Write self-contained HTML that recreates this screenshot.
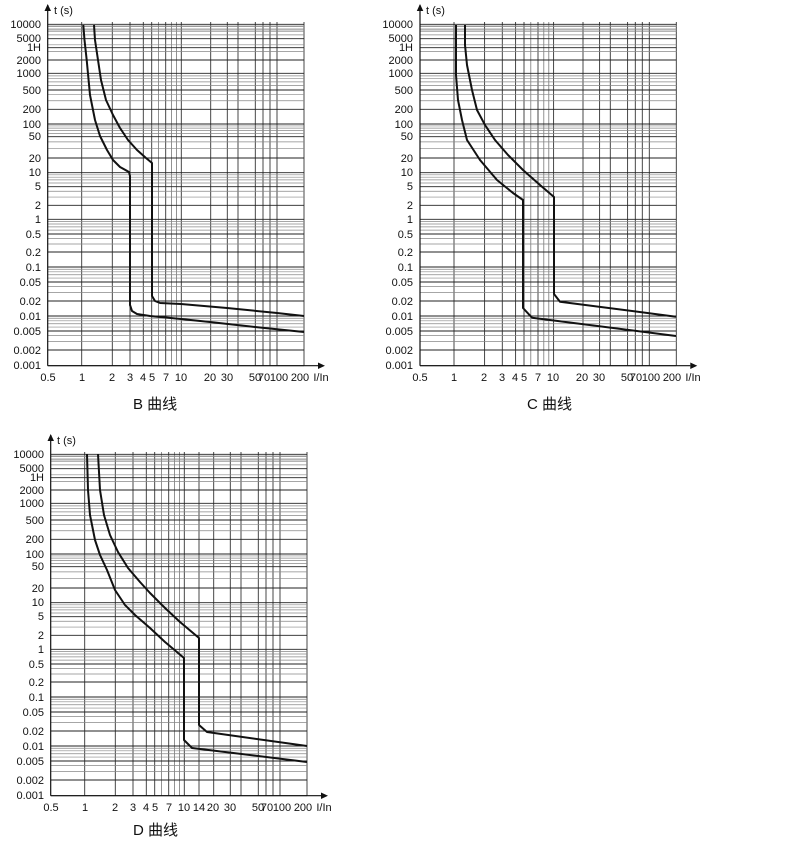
<!DOCTYPE html>
<html><head><meta charset="utf-8">
<style>
html,body{margin:0;padding:0;background:#fff;}
svg{display:block;}
text{font-family:"Liberation Sans","Noto Sans CJK SC",sans-serif;fill:#111;}
.yl{font-size:11px;text-anchor:end;}
.xl{font-size:11px;text-anchor:middle;}
.cap{font-size:15px;}
.cv{fill:none;stroke:#111;stroke-width:2;stroke-linejoin:round;}
</style></head>
<body>
<svg id="s" width="790" height="842" viewBox="0 0 790 842" xmlns="http://www.w3.org/2000/svg">
<g id="grids"></g>
<g id="labels">
<g transform="translate(0,0)">
<text class="yl" x="41" y="28">10000</text><text class="yl" x="41" y="42">5000</text><text class="yl" x="41" y="51">1H</text>
<text class="yl" x="41" y="64">2000</text><text class="yl" x="41" y="77">1000</text><text class="yl" x="41" y="94">500</text>
<text class="yl" x="41" y="113">200</text><text class="yl" x="41" y="128">100</text><text class="yl" x="41" y="140">50</text>
<text class="yl" x="41" y="162">20</text><text class="yl" x="41" y="176">10</text><text class="yl" x="41" y="190">5</text>
<text class="yl" x="41" y="209">2</text><text class="yl" x="41" y="223">1</text><text class="yl" x="41" y="238">0.5</text>
<text class="yl" x="41" y="256">0.2</text><text class="yl" x="41" y="271">0.1</text><text class="yl" x="41" y="286">0.05</text>
<text class="yl" x="41" y="305">0.02</text><text class="yl" x="41" y="320">0.01</text><text class="yl" x="41" y="335">0.005</text>
<text class="yl" x="41" y="354">0.002</text><text class="yl" x="41" y="369">0.001</text>
<text class="xl" x="48" y="381">0.5</text><text class="xl" x="82" y="381">1</text><text class="xl" x="112" y="381">2</text>
<text class="xl" x="130" y="381">3</text><text class="xl" x="143" y="381">4</text><text class="xl" x="152" y="381">5</text>
<text class="xl" x="166" y="381">7</text><text class="xl" x="181" y="381">10</text><text class="xl" x="210" y="381">20</text>
<text class="xl" x="227" y="381">30</text><text class="xl" x="255" y="381">50</text><text class="xl" x="264" y="381">70</text>
<text class="xl" x="279" y="381">100</text><text class="xl" x="300" y="381">200</text><text class="xl" x="321" y="381">I/In</text>
<text x="54" y="14" style="font-size:11px">t (s)</text>
<text class="cap" x="133" y="409">B 曲线</text>
</g>
<g transform="translate(372,0)">
<text class="yl" x="41" y="28">10000</text><text class="yl" x="41" y="42">5000</text><text class="yl" x="41" y="51">1H</text>
<text class="yl" x="41" y="64">2000</text><text class="yl" x="41" y="77">1000</text><text class="yl" x="41" y="94">500</text>
<text class="yl" x="41" y="113">200</text><text class="yl" x="41" y="128">100</text><text class="yl" x="41" y="140">50</text>
<text class="yl" x="41" y="162">20</text><text class="yl" x="41" y="176">10</text><text class="yl" x="41" y="190">5</text>
<text class="yl" x="41" y="209">2</text><text class="yl" x="41" y="223">1</text><text class="yl" x="41" y="238">0.5</text>
<text class="yl" x="41" y="256">0.2</text><text class="yl" x="41" y="271">0.1</text><text class="yl" x="41" y="286">0.05</text>
<text class="yl" x="41" y="305">0.02</text><text class="yl" x="41" y="320">0.01</text><text class="yl" x="41" y="335">0.005</text>
<text class="yl" x="41" y="354">0.002</text><text class="yl" x="41" y="369">0.001</text>
<text class="xl" x="48" y="381">0.5</text><text class="xl" x="82" y="381">1</text><text class="xl" x="112" y="381">2</text>
<text class="xl" x="130" y="381">3</text><text class="xl" x="143" y="381">4</text><text class="xl" x="152" y="381">5</text>
<text class="xl" x="166" y="381">7</text><text class="xl" x="181" y="381">10</text><text class="xl" x="210" y="381">20</text>
<text class="xl" x="227" y="381">30</text><text class="xl" x="255" y="381">50</text><text class="xl" x="264" y="381">70</text>
<text class="xl" x="279" y="381">100</text><text class="xl" x="300" y="381">200</text><text class="xl" x="321" y="381">I/In</text>
<text x="54" y="14" style="font-size:11px">t (s)</text>
<text class="cap" x="155" y="409">C 曲线</text>
</g>
<g transform="translate(3,430)">
<text class="yl" x="41" y="28">10000</text><text class="yl" x="41" y="42">5000</text><text class="yl" x="41" y="51">1H</text>
<text class="yl" x="41" y="64">2000</text><text class="yl" x="41" y="77">1000</text><text class="yl" x="41" y="94">500</text>
<text class="yl" x="41" y="113">200</text><text class="yl" x="41" y="128">100</text><text class="yl" x="41" y="140">50</text>
<text class="yl" x="41" y="162">20</text><text class="yl" x="41" y="176">10</text><text class="yl" x="41" y="190">5</text>
<text class="yl" x="41" y="209">2</text><text class="yl" x="41" y="223">1</text><text class="yl" x="41" y="238">0.5</text>
<text class="yl" x="41" y="256">0.2</text><text class="yl" x="41" y="271">0.1</text><text class="yl" x="41" y="286">0.05</text>
<text class="yl" x="41" y="305">0.02</text><text class="yl" x="41" y="320">0.01</text><text class="yl" x="41" y="335">0.005</text>
<text class="yl" x="41" y="354">0.002</text><text class="yl" x="41" y="369">0.001</text>
<text class="xl" x="48" y="381">0.5</text><text class="xl" x="82" y="381">1</text><text class="xl" x="112" y="381">2</text>
<text class="xl" x="130" y="381">3</text><text class="xl" x="143" y="381">4</text><text class="xl" x="152" y="381">5</text>
<text class="xl" x="166" y="381">7</text><text class="xl" x="181" y="381">10</text><text class="xl" x="196" y="381">14</text><text class="xl" x="210" y="381">20</text>
<text class="xl" x="227" y="381">30</text><text class="xl" x="255" y="381">50</text><text class="xl" x="264" y="381">70</text>
<text class="xl" x="279" y="381">100</text><text class="xl" x="300" y="381">200</text><text class="xl" x="321" y="381">I/In</text>
<text x="54" y="14" style="font-size:11px">t (s)</text>
<text class="cap" x="130" y="405">D 曲线</text>
</g>
</g>
<g id="curves">
<polyline class="cv" points="83.3,25 84.5,40 86.7,60 90,95 95,120 100,136 107,150 113,160 120,167 129,172 130,176 130,305 132,311 137,314 150,316 181,319 210,322 255,327 304,332"/>
<polyline class="cv" points="94,25 95,40 98,60 101,80 106,100 113,115 120,128 128,140 137,150 146,158 152,163 152,296 155,301 160,303 181,304 227,308 277,313 304,316"/>
<polyline class="cv" points="456,25 456,75 458,100 462,120 467,140 480,160 497,180 513,193 523,200 523,308 532,317.7 676,336"/>
<polyline class="cv" points="465,25 465,45 467,65 472,90 477,110 485,125 495,140 508,155 523,170 540,185 554,197 554,294 560,301.7 676,316.7"/>
<polyline class="cv" points="87,454 88,490 90,515 95,540 100,555 107,570 115,590 125,605 135,615 150,628 165,642 184,658 184,740 192,748 307,762"/>
<polyline class="cv" points="98,454 100,490 104,515 110,535 118,552 128,568 140,582 150,593 165,608 180,622 199,638 199,725 207,732 307,746"/>
</g>
</svg>
<script>
(function(){
var YV=[10000,5000,3600,2000,1000,500,200,100,50,20,10,5,2,1,0.5,0.2,0.1,0.05,0.02,0.01,0.005,0.002,0.001],
YP=[24.3,38.7,47.7,60,73.3,90,109.3,124,136.7,158,172.7,186.7,205.3,219.3,234,252,267,282,301,316,331,350,365.7];
function interp(v,V,P){var l=Math.log(v);for(var i=0;i<V.length-1;i++){var a=Math.log(V[i]),b=Math.log(V[i+1]);
if((l-a)*(l-b)<=0){return P[i]+(P[i+1]-P[i])*(l-a)/(b-a);}}return P[P.length-1];}
var ns="http://www.w3.org/2000/svg",G=document.getElementById('grids');
function ln(g,x1,y1,x2,y2,c,w){var e=document.createElementNS(ns,'line');e.setAttribute('x1',x1);e.setAttribute('y1',y1);e.setAttribute('x2',x2);e.setAttribute('y2',y2);e.setAttribute('stroke',c);e.setAttribute('stroke-width',w);g.appendChild(e);}
var XL=[[81.7,1],[112.3,1],[130,1],[143.3,1],[151.7,1],[158.5,0],[165.7,1],[171.5,0],[176.5,0],[181.3,1],[210.7,1],[227.3,1],[238,1],[255.3,1],[263,1],[270,1],[277,1],[304,1]];
[[0,0,0],[372.3,0,0],[3,430,1]].forEach(function(o){
var g=document.createElementNS(ns,'g');g.setAttribute('transform','translate('+o[0]+','+o[1]+')');G.appendChild(g);
var xs=XL.slice();if(o[2])xs.push([196,1]);
xs.forEach(function(a){ln(g,a[0],22,a[0],365.7,a[1]?'#333':'#777',a[1]?0.9:0.8);});
for(var d=-3;d<=3;d++){for(var k=1;k<10;k++){var v=k*Math.pow(10,d);var y=interp(v,YV,YP);var m=(k==1||k==2||k==5);
ln(g,47.7,y,304,y,m?'#222':'#888',m?0.9:0.7);}}
ln(g,47.7,interp(10000,YV,YP),304,interp(10000,YV,YP),'#222',0.9);
ln(g,47.7,47.7,304,47.7,'#222',0.9);
ln(g,47.7,26,304,26,'#888',0.7);ln(g,47.7,30,304,30,'#888',0.7);
ln(g,47.7,5,47.7,365.7,'#111',1.2);ln(g,47.7,365.7,318,365.7,'#111',1.2);
var p=document.createElementNS(ns,'path');p.setAttribute('d','M44.5,11 L47.7,4 L51,11Z M318,362.5 L325,365.7 L318,369Z');p.setAttribute('fill','#111');g.appendChild(p);
});
})();
</script>
</body></html>
